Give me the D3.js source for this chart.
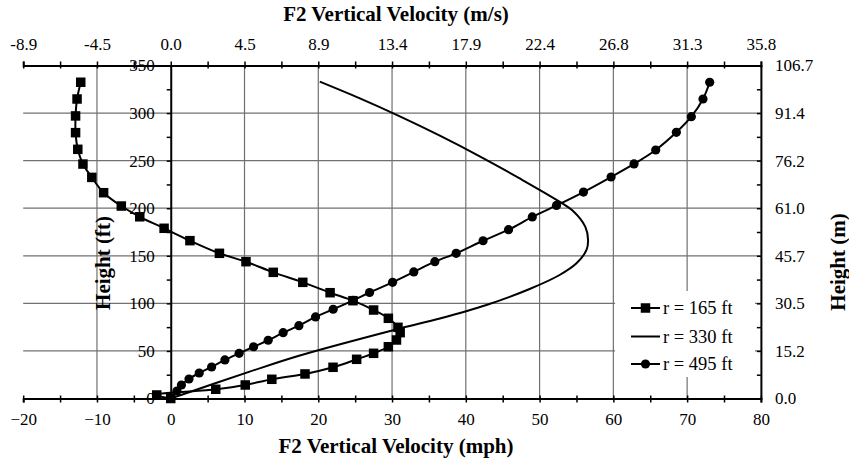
<!DOCTYPE html>
<html><head><meta charset="utf-8">
<script src="https://cdn.jsdelivr.net/npm/d3@7"></script>
<style>body{margin:0;background:#fff}svg{display:block}text{font-family:"Liberation Serif","Times New Roman",serif}</style>
</head><body><svg id="c" width="849" height="458"></svg>
<script>
// ---- data ----
const xTicksMph = [-20,-10,0,10,20,30,40,50,60,70,80];
const xTopLabels = ["-8.9","-4.5","0.0","4.5","8.9","13.4","17.9","22.4","26.8","31.3","35.8"];
const yTicksFt = [0,50,100,150,200,250,300,350];
const yRightLabels = ["0.0","15.2","30.5","45.7","61.0","76.2","91.4","106.7"];
const seriesNames = ["r = 165 ft","r = 330 ft","r = 495 ft"];
// [velocity mph, height ft]
const r165 = [[0,0],[-1.9,3.7],[6.1,9.7],[10.1,14.2],[13.7,20.2],[18.2,25.8],[22.0,32.8],[25.2,41.2],[27.5,47.5],[29.5,54.4],[30.6,61.5],[31.1,69.2],[30.8,74.8],[29.5,84.3],[27.5,93.0],[24.7,102.8],[21.6,111.2],[17.9,122.1],[13.9,132.6],[10.2,143.8],[6.6,152.6],[2.6,165.9],[-0.9,178.9],[-4.2,191.0],[-6.7,202.3],[-9.1,216.3],[-10.7,232.4],[-11.9,246.4],[-12.6,261.9],[-12.9,279.4],[-12.9,297.0],[-12.7,314.8],[-12.2,332.4]];
const r330 = [[0,0],[10.7,28.2],[17.5,45.2],[31.06,73.6],[36.48,84.1],[42.8,98.3],[48.65,115.1],[52.71,129.8],[55.0,142.1],[56.36,156.1],[56.57,166.6],[56.19,180.6],[54.54,197.1],[52.7,206.9],[47.3,231.3],[41.89,254.5],[36.48,276.2],[31.06,296.5],[25.64,315.4],[20.2,333]];
const r495 = [[0,0],[0.84,7.9],[1.45,14.2],[2.47,20.5],[3.86,26.8],[5.54,33.1],[7.34,40.5],[9.27,47.5],[11.23,54.4],[13.21,61.2],[15.24,69.2],[17.37,76.5],[19.63,85.7],[22.02,93.8],[24.73,103.2],[26.95,111.4],[30.07,122.1],[32.95,133],[35.8,143.8],[38.69,152.6],[42.34,165.8],[45.79,177.4],[49.01,190.8],[52.29,202.9],[55.95,217],[59.69,232.8],[62.8,246.5],[65.74,261.2],[68.54,279.8],[70.57,296.2],[72.15,314.8],[73.06,332.4]];

// ---- chart ----
const svg = d3.select("#c");
const L=23.2, R=760.9, T=65.5, B=398.5;
const x = d3.scaleLinear().domain([-20,80]).range([L,R]);
const y = d3.scaleLinear().domain([0,350]).range([B,T]);
const xMinor = d3.range(-20,80.1,5);
const yMinor = d3.range(0,350.1,25);
const FONT = "'Liberation Serif','Times New Roman',serif";

// grid
const grid = svg.append("g").attr("stroke","#707070").attr("stroke-width",1.2);
grid.selectAll("line.v").data(xTicksMph.filter(d=>d!==-20&&d!==0&&d!==80)).join("line")
  .attr("x1",d=>x(d)).attr("x2",d=>x(d)).attr("y1",T).attr("y2",B);
grid.selectAll("line.h").data(yTicksFt.filter(d=>d!==0&&d!==350)).join("line")
  .attr("x1",L).attr("x2",R).attr("y1",d=>y(d)).attr("y2",d=>y(d));

function styleAxis(g){ g.attr("font-family",FONT);
  g.select(".domain").attr("stroke","#000").attr("stroke-width",2);
  g.selectAll(".tick line").attr("stroke","#000").attr("stroke-width",1.5);
  g.selectAll("text").attr("fill","#000").style("font-size","17px").style("font-family",FONT); }

// bottom axis: ticks crossing
svg.append("g").attr("transform",`translate(0,${B})`).call(d3.axisBottom(x).tickValues(xMinor).tickSize(4).tickFormat("")).call(styleAxis);
svg.append("g").attr("transform",`translate(0,${B})`).call(d3.axisTop(x).tickValues(xMinor).tickSize(3).tickFormat("")).call(styleAxis).select(".domain").remove();
svg.append("g").attr("transform",`translate(0,${B})`).call(d3.axisBottom(x).tickValues(xTicksMph).tickSize(0).tickPadding(14).tickFormat(d3.format("d"))).call(styleAxis).select(".domain").remove();
// top axis
svg.append("g").attr("transform",`translate(0,${T})`).call(d3.axisTop(x).tickValues(xMinor).tickSize(4).tickFormat("")).call(styleAxis);
svg.append("g").attr("transform",`translate(0,${T})`).call(d3.axisBottom(x).tickValues(xMinor).tickSize(3).tickFormat("")).call(styleAxis).select(".domain").remove();
svg.append("g").attr("transform",`translate(0,${T})`).call(d3.axisTop(x).tickValues(xTicksMph).tickSize(0).tickPadding(15.5).tickFormat((d,i)=>xTopLabels[i])).call(styleAxis).select(".domain").remove();
// left axis at x=0
svg.append("g").attr("transform",`translate(${x(0)},0)`).call(d3.axisLeft(y).tickValues(yMinor).tickSize(4).tickFormat("")).call(styleAxis);
svg.append("g").attr("transform",`translate(${x(0)},0)`).call(d3.axisLeft(y).tickValues(yTicksFt).tickSize(0).tickPadding(16).tickFormat(d3.format("d"))).call(styleAxis).select(".domain").remove();
// right axis
svg.append("g").attr("transform",`translate(${R},0)`).call(d3.axisLeft(y).tickValues(yMinor).tickSize(4).tickFormat("")).call(styleAxis);
svg.append("g").attr("transform",`translate(${R},0)`).call(d3.axisRight(y).tickValues(yTicksFt).tickSize(0).tickPadding(14).tickFormat((d,i)=>yRightLabels[i])).call(styleAxis).select(".domain").remove();

// series
const line = d3.line().x(d=>x(d[0])).y(d=>y(d[1])).curve(d3.curveCatmullRom.alpha(0.5));
const s = svg.append("g").attr("fill","none").attr("stroke","#000").attr("stroke-width",2);
s.append("path").attr("d",line(r165));
s.append("path").attr("d",line(r330));
s.append("path").attr("d",line(r495));
const sq=9.5;
svg.append("g").selectAll("rect").data(r165).join("rect")
  .attr("x",d=>x(d[0])-sq/2).attr("y",d=>y(d[1])-sq/2).attr("width",sq).attr("height",sq).attr("fill","#000");
svg.append("g").selectAll("circle").data(r495).join("circle")
  .attr("cx",d=>x(d[0])).attr("cy",d=>y(d[1])).attr("r",4.6).attr("fill","#000");

// legend
const lg = svg.append("g");
lg.append("rect").attr("x",615).attr("y",291).attr("width",140).attr("height",86).attr("fill","#fff");
const ly=[308,336.5,364];
seriesNames.forEach((n,i)=>{
  lg.append("line").attr("x1",631).attr("x2",660).attr("y1",ly[i]).attr("y2",ly[i]).attr("stroke","#000").attr("stroke-width",2);
  if(i===0) lg.append("rect").attr("x",645.5-sq/2).attr("y",ly[i]-sq/2).attr("width",sq).attr("height",sq);
  if(i===2) lg.append("circle").attr("cx",645.5).attr("cy",ly[i]).attr("r",4.6);
  lg.append("text").attr("x",663).attr("y",ly[i]).attr("dy","0.33em").style("font-size","18.5px").style("font-family",FONT).text(n);
});

// titles
function title(t,tr){ svg.append("text").attr("transform",tr).attr("dy","0.35em").attr("text-anchor","middle")
  .style("font-size","21px").style("font-weight","bold").style("font-family",FONT).text(t); }
title("F2 Vertical Velocity (m/s)","translate(396,14)");
title("F2 Vertical Velocity (mph)","translate(396,446)");
title("Height (ft)","translate(103,263) rotate(-90)");
title("Height (m)","translate(838,262) rotate(-90)");
</script></body></html>
